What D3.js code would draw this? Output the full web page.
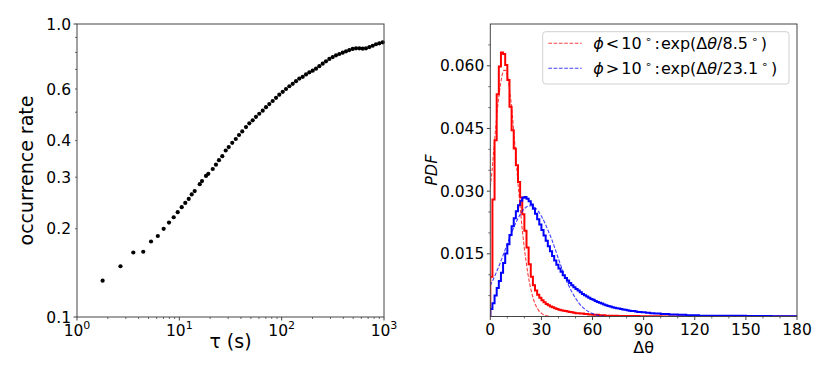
<!DOCTYPE html>
<html><head><meta charset="utf-8">
<script src="https://cdn.jsdelivr.net/npm/d3@7/dist/d3.min.js"></script>
<style>
body{margin:0;background:#fff}
text{font-family:"DejaVu Sans",sans-serif;fill:#000}
</style>
</head><body>
<svg id="c" width="830" height="383"></svg>
<script>
// ---------- Left panel data ----------
const tau = [1.78,2.66,3.55,4.44,5.29,6.16,7.03,7.93,8.81,9.64,10.55,11.43,12.35,13.21,14.13,15.82,16.66,18.22,19.2,21.2,22.8,24.4,26.3,28.4,30.4,32.9,35.6,38.3,41.2,44.8,48.3,52.1,56.1,60.4,65.3,70.3,75.7,81.7,88.1,94.8,102.4,110.2,118.8,128.2,138.1,148.7,160.6,173,186.4,201,216.6,233.3,251.8,271,292.4,315.5,339.6,365.8,395.1,425.4,458.2,494.4,532.6,573.8,619.4,666.8,719.5,776.2,835.6,899.5,970.6];
const rate = [0.133,0.149,0.166,0.167,0.181,0.189,0.200,0.210,0.219,0.228,0.237,0.245,0.253,0.262,0.269,0.284,0.291,0.303,0.308,0.320,0.331,0.343,0.354,0.370,0.380,0.393,0.405,0.418,0.430,0.445,0.458,0.469,0.482,0.494,0.506,0.520,0.533,0.546,0.560,0.574,0.587,0.600,0.613,0.625,0.638,0.651,0.660,0.673,0.684,0.693,0.704,0.718,0.732,0.746,0.760,0.771,0.782,0.790,0.798,0.807,0.815,0.822,0.826,0.826,0.824,0.826,0.834,0.843,0.853,0.859,0.866];
const leftYTicks = [0.1,0.2,0.3,0.4,0.6,1.0];
const leftYLabels = ["0.1","0.2","0.3","0.4","0.6","1.0"];
const leftXExponents = [0,1,2,3];

// ---------- Right panel data ----------
const binWidth = 1.25;
const redPdf = [
0.0095,0.0280,0.0422,0.0532,0.0598,0.0632,0.0628,0.0602,0.0566,0.0502,
0.0446,0.0402,0.0362,0.0322,0.0285,0.0245,0.0205,0.0165,0.0125,0.0095,
0.0075,0.0062,0.0052,0.0045,0.0039,0.0034,0.0030,0.0027,0.0024,0.0022,
0.0020,0.0018,0.0016,0.0015,0.0014,0.0013,0.0012,0.0011,0.0010,0.0009,
0.0008,0.0008,0.0007,0.0007,0.0006,0.0006,0.0005,0.0005,0.0004,0.0004,
0.0004,0.0003,0.0003,0.0003,0.0002,0.0002,0.0002,0.0002,0.0002,0.0002,
0.0001,0.0001,0.0001,0.0001,0.0001,0.0001,0.0001,0.0001,0.0001,0.0001,
0.00005,0.00005,0.00005,0.00005,0.00005,0.00005,0.00005,0.00005,0.00005,0.00005];
const bluePdf = [
0.0018,0.0032,0.0050,0.0068,0.0085,0.0105,0.0128,0.0151,0.0173,0.0195,
0.0216,0.0235,0.0252,0.0266,0.0277,0.0284,0.0286,0.0282,0.0276,0.0268,
0.0258,0.0246,0.0233,0.0220,0.0207,0.0194,0.0181,0.0168,0.0156,0.0145,
0.0134,0.0124,0.0115,0.0107,0.0099,0.0092,0.0086,0.0080,0.0075,0.0070,
0.0066,0.0062,0.0058,0.0054,0.0051,0.0048,0.0045,0.0042,0.0040,0.0037,
0.0035,0.0033,0.0031,0.0029,0.0027,0.0025,0.0024,0.0022,0.0021,0.0020,
0.0019,0.0018,0.0017,0.0016,0.0015,0.0014,0.0013,0.0013,0.0012,0.0011,
0.0011,0.0010,0.0010,0.0009,0.0009,0.0008,0.0008,0.0007,0.0007,0.0007,
0.0006,0.0006,0.0006,0.0006,0.0005,0.0005,0.0005,0.0005,0.0004,0.0004,
0.0004,0.0004,0.0003,0.0003,0.0003,0.0003,0.0003,0.0003,0.0002,0.0002,
0.0002,0.0002,0.0002,0.0002,0.0002,0.0002,0.00015,0.00015,0.00015,0.00015,
0.00015,0.00015,0.00015,0.00015,0.00015,0.00015,0.00015,0.00015,0.00015,0.00015,
0.0001,0.0001,0.0001,0.0001,0.0001,0.0001,0.0001,0.0001,0.0001,0.0001,0.0001,0.0001,
0.00005,0.00005,0.00005,0.00005,0.00005,0.00005,0.00005,0.00005,0.00005,0.00005,0.00005,0.00005];
const fitRedDeg = [0,1,2,3,4,5,6,7,8,9,10,11,12,13,14,15,16,17,18,19,20,21,22,23,24,25,26,27,28,29,30,31,32,33,34,35];
const fitRedPdf = [0.0310,0.0348,0.0397,0.0444,0.0488,0.0526,0.0556,0.0578,0.0589,0.0589,0.0578,0.0553,0.0520,0.0480,0.0432,0.0382,0.0332,0.0285,0.0240,0.0199,0.0163,0.0132,0.0104,0.0081,0.0062,0.0046,0.0033,0.0024,0.0017,0.0011,0.0008,0.0005,0.0003,0.0002,0.0001,0.0000];
const fitBlueDeg = [0,2,4,6,8,10,12,14,16,18,20,22,24,26,28,30,32,34,36,38,40,42,44,46,48,50,52,54,56,58,60,62,64,66,68];
const fitBluePdf = [0.0074,0.0091,0.0110,0.0130,0.0152,0.0174,0.0195,0.0215,0.0233,0.0247,0.0258,0.0264,0.0265,0.0261,0.0253,0.0240,0.0224,0.0205,0.0185,0.0162,0.0138,0.0115,0.0093,0.0074,0.0058,0.0044,0.0032,0.0023,0.0016,0.0011,0.0007,0.0004,0.0002,0.0001,0.0000];
const rightXTicks = [0,30,60,90,120,150,180];
const rightXMinor = [10,20,40,50,70,80,100,110,130,140,160,170];
const rightYTicks = [0.015,0.030,0.045,0.060];
const rightYMinor = [0.005,0.010,0.020,0.025,0.035,0.040,0.050,0.055,0.065];
const legendOps = ['<','>'];
const legendScales = ['8.5','23.1'];
const legendColors = ['#ff0000','#0000ff'];

const svg = d3.select('#c');
const FS = 15.5;
const spine = '#444';

// ================= LEFT =================
const L = {l:77, r:384, t:24, b:317};
const xL = d3.scaleLog().domain([1,1000]).range([L.l, L.r]);
const yL = d3.scaleLog().domain([0.1,1]).range([L.b, L.t]);
const gL = svg.append('g');

const xMinorL = [];
[1,10,100].forEach(p => { for (let k=2;k<=9;k++) xMinorL.push(p*k); });
gL.append('g').selectAll('line').data(xMinorL).join('line')
  .attr('x1', d=>xL(d)).attr('x2', d=>xL(d)).attr('y1', L.b).attr('y2', L.b+2)
  .attr('stroke', spine).attr('stroke-width', 0.8);
gL.append('g').selectAll('line').data(leftXExponents).join('line')
  .attr('x1', d=>xL(Math.pow(10,d))).attr('x2', d=>xL(Math.pow(10,d))).attr('y1', L.b).attr('y2', L.b+3.5)
  .attr('stroke', spine).attr('stroke-width', 1);
const yMinorL = [0.2,0.3,0.4,0.5,0.6,0.7,0.8,0.9];
gL.append('g').selectAll('line').data(yMinorL).join('line')
  .attr('x1', L.l-2).attr('x2', L.l).attr('y1', d=>yL(d)).attr('y2', d=>yL(d))
  .attr('stroke', spine).attr('stroke-width', 0.8);
gL.append('g').selectAll('line').data([0.1,1]).join('line')
  .attr('x1', L.l-3.5).attr('x2', L.l).attr('y1', d=>yL(d)).attr('y2', d=>yL(d))
  .attr('stroke', spine).attr('stroke-width', 1);

gL.append('g').selectAll('text').data(leftYTicks).join('text')
  .attr('x', L.l-6).attr('y', d=>yL(d)).attr('dy','0.36em')
  .attr('text-anchor','end').attr('font-size', FS)
  .text((d,i)=>leftYLabels[i]);
const xl = gL.append('g').selectAll('text').data(leftXExponents).join('text')
  .attr('x', d=>xL(Math.pow(10,d))).attr('y', 336)
  .attr('text-anchor','middle').attr('font-size', FS);
xl.append('tspan').text('10');
xl.append('tspan').attr('dy', -7).attr('font-size', 11).text(d=>d);

gL.append('g').selectAll('circle').data(tau).join('circle')
  .attr('cx', d=>xL(d)).attr('cy', (d,i)=>yL(rate[i])).attr('r', 2.1).attr('fill','#000');

gL.append('rect').attr('x', L.l).attr('y', L.t).attr('width', L.r-L.l).attr('height', L.b-L.t)
  .attr('fill','none').attr('stroke', spine).attr('stroke-width', 1);

gL.append('text').attr('x', (L.l+L.r)/2).attr('y', 348).attr('text-anchor','middle')
  .attr('font-size', 19).text('τ (s)');
gL.append('text').attr('transform', `translate(33,${(L.t+L.b)/2}) rotate(-90)`)
  .attr('text-anchor','middle').attr('font-size', 19).text('occurrence rate');

// ================= RIGHT =================
const R = {l:490.3, r:797, t:24, b:316.5};
const xR = d3.scaleLinear().domain([0,180]).range([R.l, R.r]);
const yR = d3.scaleLinear().domain([0,0.07]).range([R.b, R.t]);
const gR = svg.append('g');
svg.append('defs').append('clipPath').attr('id','clipR').append('rect')
  .attr('x', R.l).attr('y', R.t).attr('width', R.r-R.l).attr('height', R.b-R.t);

gR.append('g').selectAll('line').data(rightXMinor).join('line')
  .attr('x1', d=>xR(d)).attr('x2', d=>xR(d)).attr('y1', R.b).attr('y2', R.b+2)
  .attr('stroke', spine).attr('stroke-width', 0.8);
gR.append('g').selectAll('line').data(rightXTicks).join('line')
  .attr('x1', d=>xR(d)).attr('x2', d=>xR(d)).attr('y1', R.b).attr('y2', R.b+3.5)
  .attr('stroke', spine).attr('stroke-width', 1);
gR.append('g').selectAll('line').data(rightYMinor).join('line')
  .attr('x1', R.l-2).attr('x2', R.l).attr('y1', d=>yR(d)).attr('y2', d=>yR(d))
  .attr('stroke', spine).attr('stroke-width', 0.8);
gR.append('g').selectAll('line').data(rightYTicks).join('line')
  .attr('x1', R.l-3.5).attr('x2', R.l).attr('y1', d=>yR(d)).attr('y2', d=>yR(d))
  .attr('stroke', spine).attr('stroke-width', 1);
gR.append('g').selectAll('text').data(rightXTicks).join('text')
  .attr('x', d=>xR(d)).attr('y', 335).attr('text-anchor','middle').attr('font-size', FS)
  .text(d=>d);
gR.append('g').selectAll('text').data(rightYTicks).join('text')
  .attr('x', R.l-6).attr('y', d=>yR(d)).attr('dy','0.36em').attr('text-anchor','end')
  .attr('font-size', FS).text(d=>d3.format('.3f')(d));

function stepPoints(vals){
  const pts = [[0,0]];
  vals.forEach((v,i)=>{ pts.push([i*binWidth, v]); pts.push([(i+1)*binWidth, v]); });
  pts.push([vals.length*binWidth, 0]);
  pts.push([180, 0]);
  return pts;
}
const lineR = d3.line().x(d=>xR(d[0])).y(d=>yR(d[1]));
const plot = gR.append('g').attr('clip-path','url(#clipR)');
plot.append('path').attr('d', lineR(stepPoints(redPdf))).attr('fill','none')
  .attr('stroke','#ff0000').attr('stroke-width',2).attr('stroke-linejoin','miter');
plot.append('path').attr('d', lineR(stepPoints(bluePdf))).attr('fill','none')
  .attr('stroke','#0000ff').attr('stroke-width',2).attr('stroke-linejoin','miter');
const fitLine = d3.line().x(d=>xR(d[0])).y(d=>yR(d[1])).curve(d3.curveMonotoneX);
plot.append('path').attr('d', fitLine(fitRedDeg.map((d,i)=>[d, fitRedPdf[i]]))).attr('fill','none')
  .attr('stroke','#ff0000').attr('stroke-opacity',0.75).attr('stroke-width',1.1).attr('stroke-dasharray','3.7,1.6');
plot.append('path').attr('d', fitLine(fitBlueDeg.map((d,i)=>[d, fitBluePdf[i]]))).attr('fill','none')
  .attr('stroke','#0000ff').attr('stroke-opacity',0.75).attr('stroke-width',1.1).attr('stroke-dasharray','3.7,1.6');

gR.append('rect').attr('x', R.l).attr('y', R.t).attr('width', R.r-R.l).attr('height', R.b-R.t)
  .attr('fill','none').attr('stroke', spine).attr('stroke-width', 1);

gR.append('text').attr('x', (R.l+R.r)/2).attr('y', 353).attr('text-anchor','middle')
  .attr('font-size', 16).text('Δθ');
gR.append('text').attr('transform', `translate(437,${(R.t+R.b)/2}) rotate(-90)`)
  .attr('text-anchor','middle').attr('font-size', 16).attr('font-style','italic').text('PDF');

// legend
const leg = gR.append('g');
leg.append('rect').attr('x', 542.7).attr('y', 31.7).attr('width', 246.3).attr('height', 52.3)
  .attr('rx', 3).attr('fill','#fff').attr('fill-opacity',0.8).attr('stroke','#d0d0d0').attr('stroke-width',1);
legendOps.forEach((op,i)=>{
  const y = 43.3 + i*25;
  leg.append('line').attr('x1',548.3).attr('x2',581.7).attr('y1',y).attr('y2',y)
    .attr('stroke',legendColors[i]).attr('stroke-opacity',0.75).attr('stroke-width',1.1).attr('stroke-dasharray','3.7,1.6');
  const t = leg.append('text').attr('x',593.3).attr('y',y+6).attr('font-size',16);
  t.append('tspan').attr('font-style','italic').text('ϕ');
  t.append('tspan').attr('dx',2).text(op);
  t.append('tspan').attr('dx',2).text('10');
  t.append('tspan').attr('dx',3).attr('dy',-6).attr('font-size',11).text('∘');
  t.append('tspan').attr('dx',3).attr('dy',6).text(':');
  t.append('tspan').attr('dx',1).text('exp(Δ');
  t.append('tspan').attr('font-style','italic').text('θ');
  t.append('tspan').text('/' + legendScales[i]);
  t.append('tspan').attr('dx',3).attr('dy',-6).attr('font-size',11).text('∘');
  t.append('tspan').attr('dx',3).attr('dy',6).text(')');
});
</script>
</body></html>
